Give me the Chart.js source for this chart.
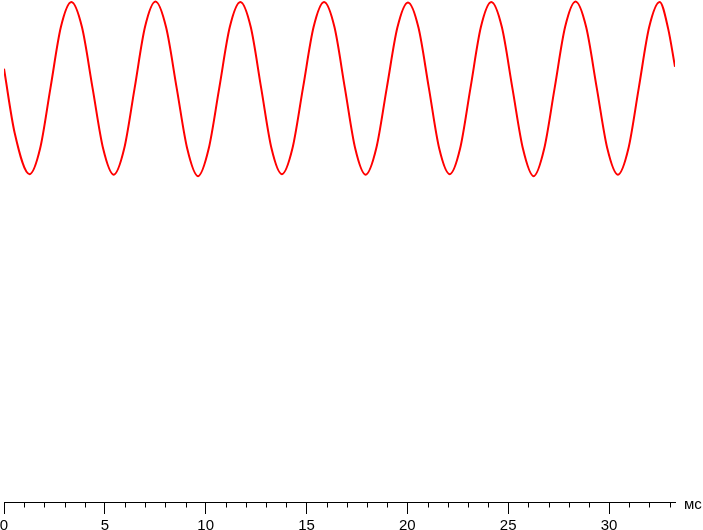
<!DOCTYPE html>
<html>
<head>
<meta charset="utf-8">
<script src="https://cdn.jsdelivr.net/npm/chart.js@4"></script>
<style>
  html, body { margin: 0; padding: 0; background: #fff; }
  canvas { display: block; }
</style>
</head>
<body>
<canvas id="wave" width="703" height="530"></canvas>
<script>
// time, ms
const timeMs = [
    0, 0.53, 1.27, 1.79, 2.305, 2.82, 3.34, 3.865, 4.39, 4.915,
    5.44, 5.96, 6.475, 6.99, 7.51, 8.04, 8.565, 9.09, 9.62, 10.145,
    10.67, 11.195, 11.72, 12.235, 12.75, 13.265, 13.78, 14.30, 14.825, 15.35,
    15.87, 16.385, 16.90, 17.415, 17.93, 18.455, 18.98, 19.505, 20.03, 20.55,
    21.065, 21.58, 22.10, 22.615, 23.13, 23.645, 24.16, 24.685, 25.21, 25.735,
    26.26, 26.78, 27.30, 27.82, 28.34, 28.865, 29.39, 29.915, 30.44, 30.96,
    31.475, 31.99, 32.51, 32.93, 33.27
];

// brightness, relative units (top of plot = 100)
const level = [
    86.3, 73.5, 65.3, 70.4, 82.5, 94.6, 99.6, 94.6, 82.5, 70.4,
    65.2, 70.4, 82.4, 94.6, 99.7, 94.5, 82.4, 70.3, 64.9, 70.3,
    82.4, 94.6, 99.6, 94.6, 82.5, 70.4, 65.3, 70.4, 82.5, 94.6,
    99.6, 94.6, 82.5, 70.4, 65.2, 70.4, 82.5, 94.5, 99.5, 94.5,
    82.5, 70.4, 65.3, 70.4, 82.5, 94.6, 99.6, 94.6, 82.4, 70.3,
    64.9, 70.3, 82.4, 94.6, 99.7, 94.6, 82.5, 70.4, 65.2, 70.4,
    82.5, 94.6, 99.6, 94.3, 86.7
];

const xMin = 0;
const xMax = 33.27;
const majorStep = 5;
const minorTicks = [
    1, 2, 3, 4, 6, 7, 8, 9, 11, 12, 13, 14, 16, 17, 18, 19,
    21, 22, 23, 24, 26, 27, 28, 29, 31, 32, 33
];
const unitLabel = 'мс';

const FONT = "'Liberation Sans', Arial, sans-serif";

// minor ticks and the unit label at the end of the axis
const axisExtras = {
    id: 'axisExtras',
    afterDraw(chart) {
        const ctx = chart.ctx;
        const x = chart.scales.x;
        const y0 = Math.round(x.top) + 0.5;
        ctx.save();
        ctx.strokeStyle = '#000';
        ctx.lineWidth = 1;
        ctx.beginPath();
        minorTicks.forEach(v => {
            const px = Math.round(x.getPixelForValue(v)) + 0.5;
            ctx.moveTo(px, y0);
            ctx.lineTo(px, y0 + 5);
        });
        ctx.stroke();
        ctx.fillStyle = '#000';
        ctx.font = '15px ' + FONT;
        ctx.textAlign = 'left';
        ctx.textBaseline = 'middle';
        ctx.fillText(unitLabel, chart.chartArea.right + 9, y0 + 2);
        ctx.restore();
    }
};

const ctx = document.getElementById('wave').getContext('2d');

new Chart(ctx, {
    type: 'line',
    data: {
        datasets: [{
            data: timeMs.map((t, i) => ({ x: t, y: level[i] })),
            borderColor: '#ff0000',
            borderWidth: 2,
            pointRadius: 0,
            fill: false,
            cubicInterpolationMode: 'monotone'
        }]
    },
    options: {
        responsive: false,
        animation: false,
        layout: {
            padding: { left: 4, right: 28, top: 0, bottom: 0 }
        },
        plugins: {
            legend: { display: false },
            tooltip: { enabled: false }
        },
        scales: {
            x: {
                type: 'linear',
                min: xMin,
                max: xMax,
                afterFit: function (scale) {
                    scale.height = 28;
                    scale.paddingLeft = 0;
                    scale.paddingRight = 0;
                },
                border: {
                    display: true,
                    color: '#000',
                    width: 1
                },
                grid: {
                    drawOnChartArea: false,
                    drawTicks: true,
                    tickLength: 12,
                    tickColor: '#000',
                    tickWidth: 1
                },
                ticks: {
                    stepSize: majorStep,
                    includeBounds: false,
                    maxRotation: 0,
                    autoSkip: false,
                    padding: 3,
                    color: '#000',
                    font: {
                        family: FONT,
                        size: 15
                    }
                }
            },
            y: {
                display: false,
                min: 0,
                max: 100
            }
        }
    },
    plugins: [axisExtras]
});
</script>
</body>
</html>
